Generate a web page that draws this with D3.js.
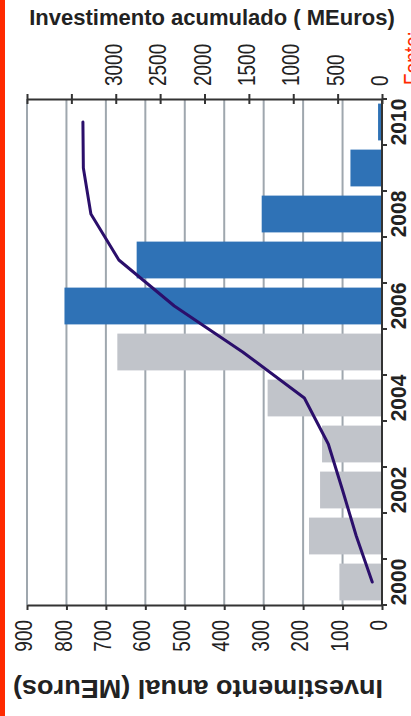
<!DOCTYPE html>
<html>
<head>
<meta charset="utf-8">
<script src="https://cdn.jsdelivr.net/npm/d3@7"></script>
<style>
  html, body { margin: 0; padding: 0; background: #fff; }
  svg { display: block; font-family: "Liberation Sans", Arial, sans-serif; }
</style>
</head>
<body>
<svg id="chart" width="411" height="716"></svg>
<script>
// Annual and accumulated investment, 2000–2010 (million euros)
const years = [2000, 2001, 2002, 2003, 2004, 2005, 2006, 2007, 2008, 2009, 2010];
const annual = [108, 185, 157, 152, 290, 671, 805, 622, 305, 80, 10];
const cumulative = [110, 290, 445, 605, 875, 1570, 2340, 2965, 3280, 3365, 3370];
const annualTicks = [0, 100, 200, 300, 400, 500, 600, 700, 800, 900];
const cumulativeTicks = [0, 500, 1000, 1500, 2000, 2500, 3000, 3500, 4000];
const cumulativeLabels = ["0", "500", "1000", "1500", "2000", "2500", "3000", "", ""];
const yearLabels = ["2000", "", "2002", "", "2004", "", "2006", "", "2008", "", "2010"];
const barColors = ["#c1c4ca", "#c1c4ca", "#c1c4ca", "#c1c4ca", "#c1c4ca", "#c1c4ca",
                   "#2f72b6", "#2f72b6", "#2f72b6", "#2f72b6", "#2f72b6"];

const svg = d3.select("#chart");
const plot = { left: 27, right: 382, top: 99, bottom: 605 };

// The chart is laid out sideways: years run up the right edge,
// annual values grow leftwards from the right-hand axis.
const y = d3.scaleBand()
  .domain(years.slice().reverse())
  .range([plot.top, plot.bottom])
  .paddingInner(0.2)
  .paddingOuter(0.1);
const xAnnual = d3.scaleLinear().domain([0, 900]).range([plot.right, plot.left]);
const xCum = d3.scaleLinear().domain([0, 4000]).range([plot.right, plot.left]);

const ink = "#222";
const axisInk = "#333";

// red frame strip on the left edge
svg.append("rect").attr("x", 0).attr("y", 0).attr("width", 5).attr("height", 716).attr("fill", "#ff2a00");

// gridlines at every annual tick
svg.append("g").selectAll("line")
  .data(annualTicks.filter(d => d > 0))
  .join("line")
  .attr("x1", d => xAnnual(d)).attr("x2", d => xAnnual(d))
  .attr("y1", plot.top).attr("y2", plot.bottom)
  .attr("stroke", "#9fa7ae").attr("stroke-width", 2);

// bars
svg.append("g").selectAll("rect")
  .data(years.map((yr, i) => ({ yr, v: annual[i], c: barColors[i] })))
  .join("rect")
  .attr("x", d => xAnnual(d.v))
  .attr("y", d => y(d.yr))
  .attr("width", d => xAnnual(0) - xAnnual(d.v))
  .attr("height", y.bandwidth())
  .attr("fill", d => d.c);

// accumulated line
const line = d3.line()
  .x(d => xCum(d.v))
  .y(d => y(d.yr) + y.bandwidth() / 2);
svg.append("path")
  .datum(years.map((yr, i) => ({ yr, v: cumulative[i] })))
  .attr("d", line)
  .attr("fill", "none")
  .attr("stroke", "#2b0f6b")
  .attr("stroke-width", 3)
  .attr("stroke-linejoin", "round")
  .attr("stroke-linecap", "round");

// top axis: accumulated investment
const topAxis = svg.append("g")
  .attr("transform", `translate(0,${plot.top})`)
  .call(d3.axisTop(xCum).tickValues(cumulativeTicks).tickSize(5).tickSizeOuter(0)
    .tickFormat((d, i) => cumulativeLabels[i]));
topAxis.select(".domain").attr("stroke", axisInk).attr("stroke-width", 2);
topAxis.selectAll(".tick line").attr("y1", 5).attr("y2", -5).attr("stroke", axisInk).attr("stroke-width", 2);
topAxis.selectAll(".tick text")
  .attr("x", null).attr("y", null).attr("dy", null)
  .attr("transform", "translate(-3,-13) rotate(-90) scale(1,1.3)")
  .attr("dy", "0.35em")
  .attr("text-anchor", "start")
  .attr("font-size", 19)
  .attr("fill", ink);

// bottom axis: annual investment
const bottomAxis = svg.append("g")
  .attr("transform", `translate(0,${plot.bottom})`)
  .call(d3.axisBottom(xAnnual).tickValues(annualTicks).tickSize(5).tickSizeOuter(0));
bottomAxis.select(".domain").attr("stroke", axisInk).attr("stroke-width", 2);
bottomAxis.selectAll(".tick line").attr("stroke", axisInk).attr("stroke-width", 2);
bottomAxis.selectAll(".tick text")
  .attr("x", null).attr("y", null).attr("dy", null)
  .attr("transform", "translate(-4,15) rotate(-90) scale(1,1.3)")
  .attr("dy", "0.35em")
  .attr("text-anchor", "end")
  .attr("font-size", 19)
  .attr("fill", ink);

// right axis: years
const step = y.step();
const boundaries = years.map(yr => y(yr) - step * y.paddingInner() / 2);
boundaries.push(plot.bottom);
const yearAxis = svg.append("g");
yearAxis.append("line")
  .attr("x1", plot.right).attr("x2", plot.right)
  .attr("y1", plot.top).attr("y2", plot.bottom)
  .attr("stroke", axisInk).attr("stroke-width", 2);
yearAxis.selectAll("line.tk")
  .data(boundaries)
  .join("line").attr("class", "tk")
  .attr("x1", plot.right).attr("x2", plot.right + 5)
  .attr("y1", d => d).attr("y2", d => d)
  .attr("stroke", axisInk).attr("stroke-width", 2);
yearAxis.selectAll("text")
  .data(years.map((yr, i) => ({ yr, t: yearLabels[i] })).filter(d => d.t))
  .join("text")
  .attr("transform", d => `translate(406,${y(d.yr) + y.bandwidth() / 2}) rotate(-90) scale(1,1.05)`)
  .attr("text-anchor", "middle")
  .attr("font-size", 21)
  .attr("font-weight", "bold")
  .attr("fill", ink)
  .text(d => d.t);

// axis titles
svg.append("text")
  .attr("x", 212).attr("y", 25)
  .attr("text-anchor", "middle")
  .attr("font-size", 22)
  .attr("font-weight", "bold")
  .attr("fill", ink)
  .text("Investimento acumulado ( MEuros)");

svg.append("text")
  .attr("transform", "translate(198,680) rotate(180)")
  .attr("text-anchor", "middle")
  .attr("font-size", 26)
  .attr("font-weight", "bold")
  .attr("textLength", 370)
  .attr("lengthAdjust", "spacingAndGlyphs")
  .attr("fill", ink)
  .text("Investimento anual (MEuros)");

// source note running up the right edge
svg.append("text")
  .attr("transform", "translate(421,85) rotate(-90) scale(1,1.3)")
  .attr("text-anchor", "start")
  .attr("font-size", 19)
  .attr("fill", "#ff2a00")
  .text("Fonte:");
</script>
</body>
</html>
